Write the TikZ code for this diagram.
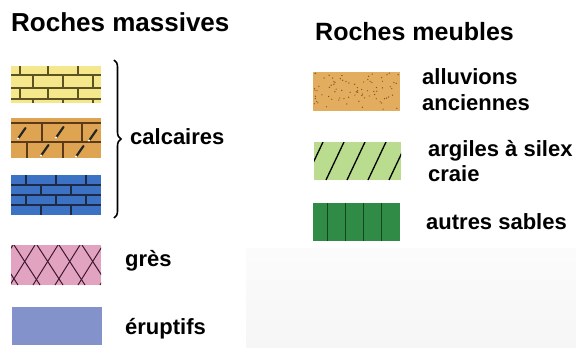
\documentclass[tikz,border=0pt]{standalone}
\usepackage{fontspec}
\setmainfont{Liberation Sans}
\usetikzlibrary{decorations.pathreplacing}

\definecolor{brickyellow}{HTML}{F4E78C}
\definecolor{mortaryellow}{HTML}{5C5222}
\definecolor{brickorange}{HTML}{DFA452}
\definecolor{mortarorange}{HTML}{5A3A1A}
\definecolor{brickblue}{HTML}{3C72C4}
\definecolor{mortarblue}{HTML}{1E2A48}
\definecolor{gresrose}{HTML}{E2A3C0}
\definecolor{gresline}{HTML}{3E1830}
\definecolor{eruptblue}{HTML}{8392CA}
\definecolor{sandfill}{HTML}{E3AD60}
\definecolor{sanddot}{HTML}{8A5420}
\definecolor{argilegreen}{HTML}{B9DC8E}
\definecolor{sablegreen}{HTML}{2F8B45}
\definecolor{sableline}{HTML}{16451E}

\tikzset{
  title/.style={anchor=base west, inner sep=0pt, font=\fontsize{26}{31}\selectfont\bfseries},
  legend/.style={anchor=base west, inner sep=0pt, font=\fontsize{22}{26}\selectfont\bfseries},
}

\begin{document}
\begin{tikzpicture}[x=1pt, y=-1pt]
\useasboundingbox (0,0) rectangle (576,348);
\shade[top color=gray!3, bottom color=gray!7] (246,248) rectangle (576,348);

% Titles
\node[title] (massives) at (11,31) {Roches massives};
\node[title, font=\fontsize{25}{30}\selectfont\bfseries] (meubles) at (315,40) {Roches meubles};

% Calcaire jaune
\fill[brickyellow] (11,66) rectangle (101,103);
\begin{scope}[mortaryellow, line width=1.3pt]
  \clip (11,66) rectangle (101,103);
  \draw (11,75) -- (101,75) (11,88) -- (101,88) (11,99) -- (101,99);
  \foreach \x in {20,48,78} {
    \draw (\x,66) -- (\x,75);
    \draw (\x,88) -- (\x,99);
  }
  \foreach \x in {33,63,93} {
    \draw (\x,75) -- (\x,88);
    \draw (\x,99) -- (\x,103);
  }
\end{scope}

% Calcaire orange
\fill[brickorange] (11,118) rectangle (101,158);
\begin{scope}[mortarorange, line width=1.2pt]
  \clip (11,118) rectangle (101,158);
  \draw (11,123) -- (101,123);
  \draw (11,142) -- (101,142);
  \foreach \x in {42,82} \draw (\x,123) -- (\x,142);
  \foreach \x in {27,63} \draw (\x,142) -- (\x,158);
  \foreach \x/\y in {22/133,60/132,93/135,45/150,80/151} {
    \draw[black!85, line width=2.2pt, line cap=round] (\x-3.5,\y+5) -- (\x+3.5,\y-5);
    \fill[white] (\x-4,\y+5.5) circle (1.2);
  }
\end{scope}

% Calcaire bleu
\fill[brickblue] (11,175) rectangle (101,215);
\begin{scope}[mortarblue, line width=2pt]
  \clip (11,175) rectangle (101,215);
  \draw (11,185) -- (101,185) (11,195) -- (101,195) (11,205) -- (101,205);
  \foreach \x in {26,56,86} {
    \draw (\x,175) -- (\x,185);
    \draw (\x,195) -- (\x,205);
  }
  \foreach \x in {41,71} {
    \draw (\x,185) -- (\x,195);
    \draw (\x,205) -- (\x,215);
  }
\end{scope}

% Accolade
\draw[decorate, decoration={brace, amplitude=7pt}, line width=1.6pt]
  (114,60) -- (114,218);
\node[legend] (calcaires) at (130,144) {calcaires};

% Gres
\fill[gresrose] (11,245) rectangle (101,285);
\begin{scope}[gresline, line width=1pt]
  \clip (11,245) rectangle (101,285);
  \foreach \x in {-12,10,33,55,78,100} {
    \draw (\x,285) -- (\x+25,245);
    \draw (\x+4,245) -- (\x+30,285);
  }
\end{scope}
\node[legend] (gres) at (125,266) {grès};

% Eruptifs
\fill[eruptblue] (12,307) rectangle (102,345);
\node[legend] (eruptifs) at (125,334) {éruptifs};

% Alluvions anciennes
\fill[sandfill] (313,72) rectangle (400,111);
\pgfmathsetseed{11}
\foreach \i in {1,...,80}
  \fill[sanddot] ({314+85*rnd},{73+37*rnd}) circle (0.7);
\node[legend] (alluvions) at (422,84) {alluvions};
\node[legend] (anciennes) at (422,110) {anciennes};

% Argiles a silex, craie
\fill[argilegreen] (314,142) rectangle (401,180);
\begin{scope}[black, line width=1.3pt]
  \clip (314,142) rectangle (401,180);
  \foreach \x in {305,326,347,368,389} \draw (\x,180) -- (\x+18,142);
\end{scope}
\node[legend] (argiles) at (428,156) {argiles à silex};
\node[legend] (craie)   at (428,181) {craie};

% Autres sables
\fill[sablegreen] (313,203) rectangle (400,241);
\foreach \x in {327,345,363,381}
  \draw[sableline, line width=0.8pt] (\x,203) -- (\x,241);
\node[legend] (sables) at (426,229) {autres sables};

\end{tikzpicture}
\end{document}
